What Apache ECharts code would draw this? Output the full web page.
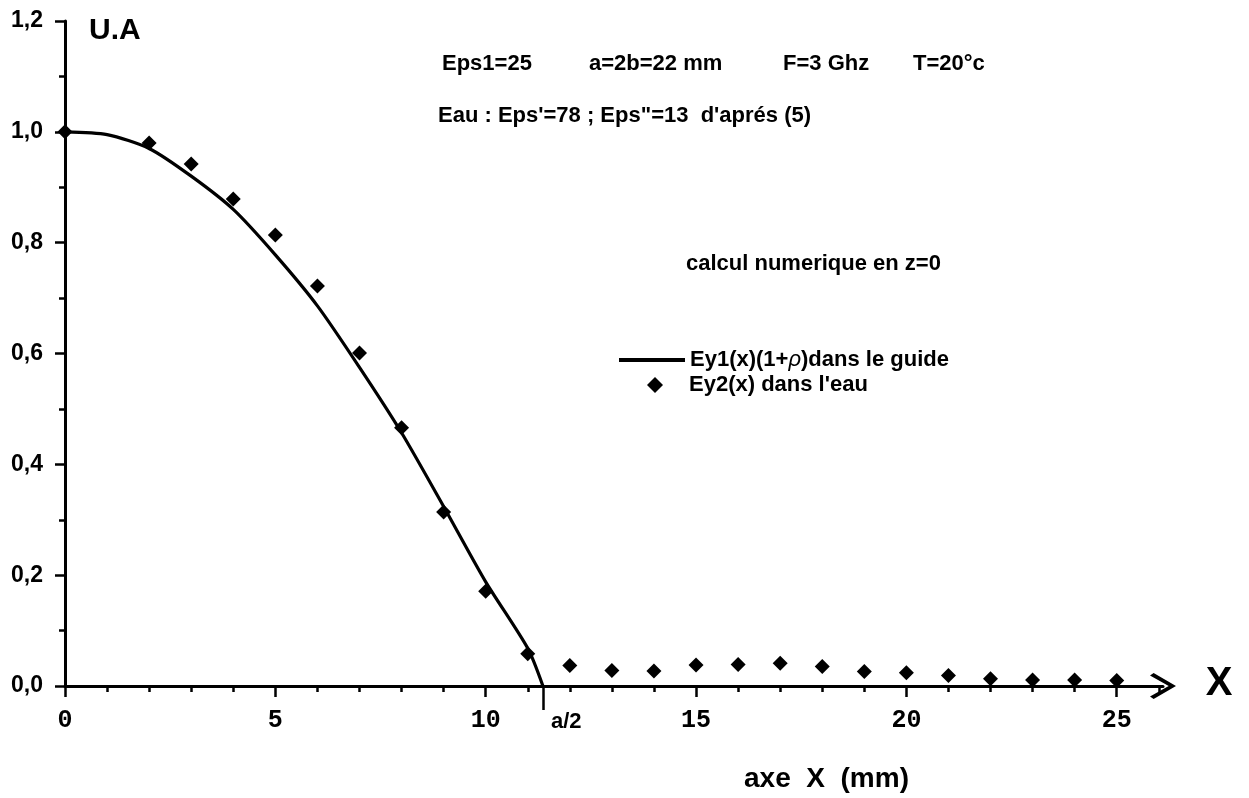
<!DOCTYPE html>
<html><head><meta charset="utf-8">
<script src="https://cdn.jsdelivr.net/npm/echarts@6/dist/echarts.min.js"></script>
<style>html,body{margin:0;padding:0;background:#fff}#c{width:1249px;height:798px}</style>
</head><body><div id="c"></div>
<script>
// Ey1(x)(1+rho) in the guide (solid curve)
const curveX = [0, 1, 2, 3, 4, 5, 6, 7, 8, 9, 10, 11, 11.36];
const curveY = [1.0, 0.995, 0.97, 0.92, 0.86, 0.778, 0.686, 0.575, 0.457, 0.324, 0.188, 0.068, 0.0];
// Ey2(x) in water (diamonds)
const pointX = [0, 2, 3, 4, 5, 6, 7, 8, 9, 10, 11, 12, 13, 14, 15, 16, 17, 18, 19, 20, 21, 22, 23, 24, 25];
const pointY = [1.0, 0.98, 0.942, 0.879, 0.814, 0.722, 0.601, 0.466, 0.314, 0.171, 0.058, 0.037, 0.028, 0.027, 0.038, 0.039, 0.041, 0.035, 0.026, 0.024, 0.019, 0.013, 0.011, 0.011, 0.010];
// axis ticks
const xMajorTicks = [0, 5, 10, 15, 20, 25];
const xMinorTicks = [0, 1, 2, 3, 4, 5, 6, 7, 8, 9, 10, 11, 12, 13, 14, 15, 16, 17, 18, 19, 20, 21, 22, 23, 24, 25, 26];
const xHalfA = [11.36];
const xHalfALabel = 'a/2';
const yMin = 0, yMax = 1.2, yStep = 0.2;
const xMin = 0, xMax = 26.1;

const lineName = 'Ey1(x)(1+ρ)dans le guide';
const scatName = "Ey2(x) dans l'eau";

const SANS = '"Liberation Sans", Arial, Helvetica, sans-serif';
const MONO = '"Liberation Mono", "Courier New", monospace';

const chart = echarts.init(document.getElementById('c'), null, {renderer: 'canvas'});

function txt(x, y, text, size, align) {
  return {type: 'text', x: x, y: y, silent: true,
    style: {text: text, font: 'bold ' + size + 'px ' + SANS, fill: '#000', align: align || 'left', verticalAlign: 'middle'}};
}

const chevron = 'path://M50,0 L100,86 L90,100 L50,28 L10,100 L0,86 Z';
const legendTextStyle = {color: '#000', fontFamily: SANS, fontWeight: 'bold', fontSize: 22,
  rich: {i: {fontStyle: 'italic', fontWeight: 'normal', fontFamily: SANS, fontSize: 22, color: '#000'}}};

const option = {
  animation: false,
  backgroundColor: '#fff',
  grid: {left: 65, top: 21, right: 86, bottom: 112, containLabel: false},
  xAxis: [
    {type: 'value', min: xMin, max: xMax, position: 'bottom',
      axisLine: {show: true, lineStyle: {color: '#000', width: 3}, symbol: ['none', chevron], symbolSize: [28, 26]},
      axisTick: {show: true, customValues: xMinorTicks, length: 6, lineStyle: {color: '#000', width: 2.5}},
      axisLabel: {show: false}, splitLine: {show: false}},
    {type: 'value', min: xMin, max: xMax, position: 'bottom',
      axisLine: {show: false},
      axisTick: {show: true, customValues: xMajorTicks, length: 11, lineStyle: {color: '#000', width: 2.5}},
      axisLabel: {show: true, customValues: xMajorTicks, margin: 22, color: '#000',
        fontFamily: MONO, fontWeight: 'bold', fontSize: 25},
      splitLine: {show: false}},
    {type: 'value', min: xMin, max: xMax, position: 'bottom',
      axisLine: {show: false},
      axisTick: {show: true, customValues: xHalfA, length: 24, lineStyle: {color: '#000', width: 2.5}},
      axisLabel: {show: true, customValues: xHalfA, margin: 25, color: '#000', align: 'left', padding: [0, 0, 0, 8],
        fontFamily: SANS, fontWeight: 'bold', fontSize: 22, formatter: function () { return xHalfALabel; }},
      splitLine: {show: false}}
  ],
  yAxis: {type: 'value', min: yMin, max: yMax, interval: yStep,
    axisLine: {show: true, lineStyle: {color: '#000', width: 3}},
    axisTick: {show: true, length: 10, lineStyle: {color: '#000', width: 2.5}},
    minorTick: {show: true, splitNumber: 2, length: 6, lineStyle: {color: '#000', width: 2.5}},
    axisLabel: {margin: 22, color: '#000', fontFamily: SANS, fontWeight: 'bold', fontSize: 23,
      formatter: function (v) { return v.toFixed(1).replace('.', ','); }},
    splitLine: {show: false}, minorSplitLine: {show: false}},
  legend: [
    {orient: 'vertical', left: 614, top: 344, itemWidth: 66, itemHeight: 4, icon: 'rect',
      itemStyle: {color: '#000'}, textStyle: legendTextStyle,
      formatter: function () { return 'Ey1(x)(1+{i|ρ})dans le guide'; },
      data: [lineName]},
    {orient: 'vertical', left: 642, top: 369, itemWidth: 16, itemHeight: 16, icon: 'diamond',
      itemStyle: {color: '#000', opacity: 1}, textStyle: Object.assign({}, legendTextStyle, {padding: [0, 0, 0, 21]}),
      data: [scatName]}
  ],
  series: [
    {name: lineName, type: 'line', xAxisIndex: 0, data: curveX.map((x, i) => [x, curveY[i]]),
      symbol: 'none', smooth: 0.25, lineStyle: {color: '#000', width: 3.2}, itemStyle: {color: '#000'}, z: 3},
    {name: scatName, type: 'scatter', xAxisIndex: 0, data: pointX.map((x, i) => [x, pointY[i]]),
      symbol: 'diamond', symbolSize: 15, itemStyle: {color: '#000', opacity: 1}, z: 4}
  ],
  graphic: [
    txt(89, 31, 'U.A', 30),
    txt(442, 64, 'Eps1=25', 22),
    txt(589, 64, 'a=2b=22 mm', 22),
    txt(783, 64, 'F=3 Ghz', 22),
    txt(913, 64, 'T=20°c', 22),
    txt(438, 116, "Eau : Eps'=78 ; Eps\"=13  d'aprés (5)", 22),
    txt(686, 264, 'calcul numerique en z=0', 22),
    txt(1219, 684, 'X', 40, 'center'),
    txt(744, 779, 'axe  X  (mm)', 28)
  ]
};
chart.setOption(option);
</script></body></html>
